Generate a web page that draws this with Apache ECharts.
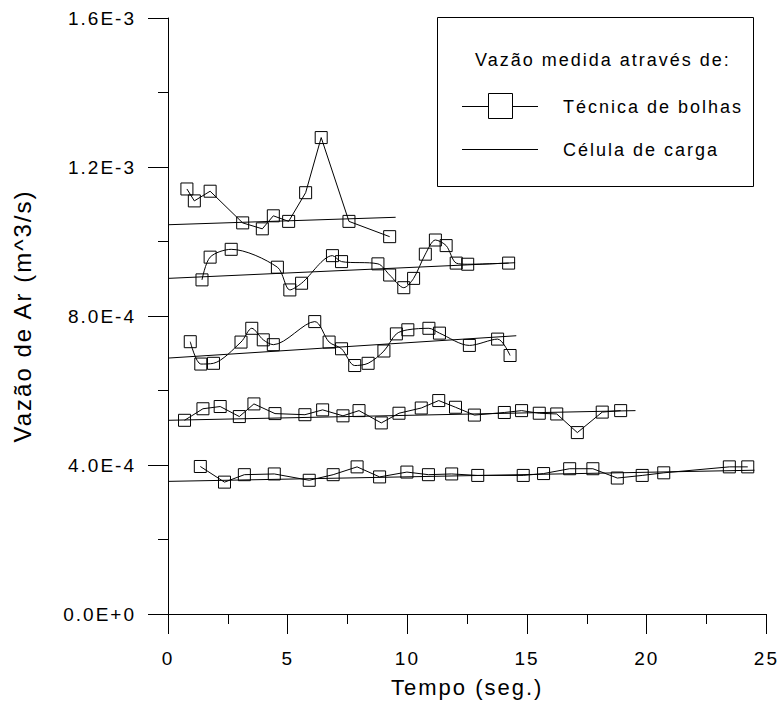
<!DOCTYPE html>
<html><head><meta charset="utf-8">
<script src="https://cdn.jsdelivr.net/npm/echarts@6/dist/echarts.min.js"></script>
<style>
html,body{margin:0;padding:0;background:#fff;}
#c{width:780px;height:703px;}
#c svg text{letter-spacing:2px;}
</style></head><body><div id="c"></div>
<script>
// ---- data (time in s, flow in units of 1E-4 m^3/s) ----
const xTickLabels = ['0','5','10','15','20','25'];
const yTickLabels = ['0.0E+0','4.0E-4','8.0E-4','1.2E-3','1.6E-3'];

const s1t = [0.79,1.10,1.76,3.12,3.94,4.40,5.04,5.75,6.40,7.56,9.26];
const s1v = [11.41,11.09,11.35,10.50,10.34,10.69,10.54,11.31,12.79,10.54,10.13];
const f1t = [0, 9.51];
const f1v = [10.45, 10.65];

const s2t = [1.42,1.76,2.64,4.57,5.09,5.58,6.87,7.25,8.77,9.26,9.85,10.26,10.75,11.17,11.62,12.04,12.52,14.23];
const s2v = [8.97,9.58,9.79,9.31,8.70,8.88,9.62,9.46,9.40,9.10,8.76,9.01,9.66,10.04,9.89,9.42,9.39,9.42];
const f2t = [0, 14.5];
const f2v = [9.01, 9.43];

const s3t = [0.93,1.37,1.90,3.05,3.50,3.98,4.40,6.13,6.73,7.25,7.80,8.36,9.02,9.54,10.02,10.90,11.34,12.59,13.77,14.29];
const s3v = [7.31,6.71,6.73,7.30,7.67,7.36,7.23,7.85,7.30,7.12,6.67,6.73,7.06,7.52,7.63,7.67,7.54,7.21,7.38,6.94];
const f3t = [0, 14.55];
const f3v = [6.87, 7.47];

const s4t = [0.69,1.46,2.18,2.98,3.59,4.47,5.72,6.46,7.31,7.98,8.91,9.65,10.58,11.31,12.01,12.80,14.05,14.77,15.51,16.24,17.10,18.14,18.91];
const s4v = [5.20,5.51,5.57,5.30,5.64,5.38,5.35,5.48,5.32,5.46,5.13,5.39,5.53,5.73,5.55,5.34,5.41,5.46,5.39,5.37,4.87,5.42,5.46];
const f4t = [0, 19.53];
const f4v = [5.20, 5.46];

const s5t = [1.35,2.36,3.19,4.44,5.90,6.90,7.90,8.84,9.98,10.88,11.85,12.94,14.84,15.69,16.78,17.75,18.77,19.81,20.71,23.45,24.22];
const s5v = [3.96,3.54,3.74,3.76,3.59,3.74,3.95,3.68,3.81,3.74,3.76,3.72,3.72,3.77,3.90,3.90,3.65,3.72,3.79,3.95,3.95];
const f5t = [0, 24.5];
const f5v = [3.56, 3.86];

const UNIT = 1e-4;
const measured = [[s1t,s1v,false],[s2t,s2v,true],[s3t,s3v,true],[s4t,s4v,false],[s5t,s5v,false]];
const fits = [[f1t,f1v],[f2t,f2v],[f3t,f3v],[f4t,f4v],[f5t,f5v]];

const FONT = '"Liberation Sans", Arial, sans-serif';
const pair = (t, v) => t.map((x, i) => [x, v[i] * UNIT]);

const series = [];
fits.forEach(([t, v]) => series.push({
  type: 'line', name: 'Célula de carga', data: pair(t, v), symbol: 'none',
  lineStyle: {color: '#000', width: 1}, silent: true, z: 2
}));
measured.forEach(([t, v, sm]) => series.push({
  type: 'line', name: 'Técnica de bolhas', data: pair(t, v), symbol: 'rect', symbolSize: 12,
  smooth: sm ? 0.3 : false,
  itemStyle: {color: 'rgba(0,0,0,0)', borderColor: '#000', borderWidth: 1},
  lineStyle: {color: '#000', width: 1}, silent: true, z: 3
}));

const chart = echarts.init(document.getElementById('c'), null, {renderer: 'svg'});
chart.setOption({
  animation: false,
  backgroundColor: '#fff',
  grid: {left: 168, right: 12, top: 18, bottom: 88, containLabel: false},
  xAxis: {
    type: 'value', min: 0, max: 25, interval: 5,
    axisLine: {lineStyle: {color: '#000', width: 1}},
    axisTick: {length: 20, lineStyle: {color: '#000'}},
    minorTick: {show: true, splitNumber: 2, length: 10, lineStyle: {color: '#000'}},
    splitLine: {show: false}, minorSplitLine: {show: false},
    axisLabel: {fontSize: 19, color: '#000', fontFamily: FONT, margin: 35,
      formatter: v => xTickLabels[Math.round(v / 5)]},
    name: 'Tempo (seg.)', nameLocation: 'middle', nameGap: 62,
    nameTextStyle: {fontSize: 22, color: '#000', fontFamily: FONT}
  },
  yAxis: {
    type: 'value', min: 0, max: 16e-4, interval: 4e-4,
    axisLine: {lineStyle: {color: '#000', width: 1}},
    axisTick: {length: 20, lineStyle: {color: '#000'}},
    minorTick: {show: true, splitNumber: 2, length: 10, lineStyle: {color: '#000'}},
    splitLine: {show: false}, minorSplitLine: {show: false},
    axisLabel: {fontSize: 19, color: '#000', fontFamily: FONT, margin: 32,
      formatter: v => yTickLabels[Math.round(v / 4e-4)]},
    name: 'Vazão de Ar (m^3/s)', nameLocation: 'middle', nameGap: 134, nameRotate: 90,
    nameTextStyle: {fontSize: 24, color: '#000', fontFamily: FONT}
  },
  graphic: [
    {type: 'rect', shape: {x: 437.5, y: 17.5, width: 316, height: 169}, style: {fill: '#fff', stroke: '#000', lineWidth: 1}, z: 10},
    {type: 'text', style: {text: 'Vazão medida através de:', x: 475, y: 60, fontSize: 18, fontFamily: FONT, fill: '#000', align: 'left', verticalAlign: 'middle'}, z: 11},
    {type: 'line', shape: {x1: 462, y1: 106.5, x2: 538, y2: 106.5}, style: {stroke: '#000', lineWidth: 1}, z: 11},
    {type: 'rect', shape: {x: 488.5, y: 93.5, width: 24, height: 25}, style: {fill: '#fff', stroke: '#000', lineWidth: 1}, z: 12},
    {type: 'text', style: {text: 'Técnica de bolhas', x: 563, y: 107, fontSize: 18, fontFamily: FONT, fill: '#000', align: 'left', verticalAlign: 'middle'}, z: 11},
    {type: 'line', shape: {x1: 462, y1: 149.5, x2: 538, y2: 149.5}, style: {stroke: '#000', lineWidth: 1}, z: 11},
    {type: 'text', style: {text: 'Célula de carga', x: 563, y: 150, fontSize: 18, fontFamily: FONT, fill: '#000', align: 'left', verticalAlign: 'middle'}, z: 11}
  ],
  series: series
});
</script></body></html>
